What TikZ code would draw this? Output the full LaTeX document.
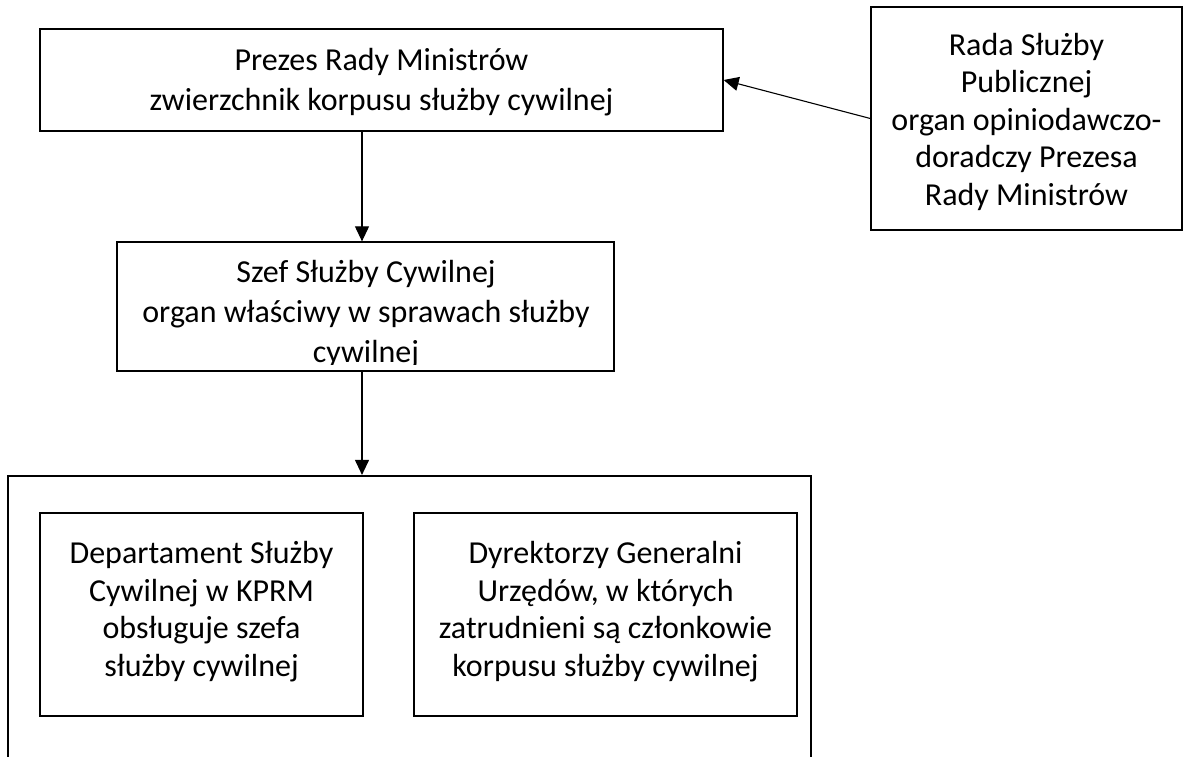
\documentclass[tikz,border=0pt]{standalone}
\usepackage{fontspec}
\setmainfont{Carlito}
\usetikzlibrary{arrows.meta,calc}
\begin{document}
\begin{tikzpicture}[x=1pt,y=-1pt,
  box/.style={draw, line width=1.3pt, inner sep=0pt},
  txt/.style={align=center, inner sep=0pt, font=\fontsize{32}{37.5}\selectfont},
  txtw/.style={align=center, inner sep=0pt, font=\fontsize{32}{40}\selectfont},
  frame/.style={draw, line width=2.2pt},
  conn/.style={line width=1.1pt, -{Triangle[length=15pt,width=14pt]}}]
\clip (0,0) rectangle (1184,756);
\fill[white] (0,0) rectangle (1184,756);
% boxes
\node[box, minimum width=683pt, minimum height=102pt] (prezes) at (381.5,80) {};
\node[box, minimum width=311pt, minimum height=223pt] (rada) at (1026.5,118.5) {};
\node[box, minimum width=497pt, minimum height=129pt] (szef) at (365.5,306.5) {};
\node[frame, minimum width=803pt, minimum height=330pt] (outer) at (409.5,641) {};
\node[box, minimum width=323pt, minimum height=203pt] (dep) at (201.5,614.5) {};
\node[box, minimum width=383pt, minimum height=203pt] (dyr) at (605.5,614.5) {};
% texts
\node[txtw] (prezest) at ($(prezes.center)+(0,2)$)
  {Prezes Rady Ministrów\\zwierzchnik korpusu służby cywilnej};
\node[txt] (radat) at ($(rada.center)+(0,3)$)
  {Rada Służby\\Publicznej\\organ opiniodawczo-\\doradczy Prezesa\\Rady Ministrów};
\begin{scope}
  \clip (117,242) rectangle (614,364);
  \node[txtw, anchor=base] (szeft) at (366,362)
    {Szef Służby Cywilnej\\organ właściwy w sprawach służby\\cywilnej};
\end{scope}
\node[txt] (dept) at ($(dep.center)+(0,-3)$)
  {Departament Służby\\Cywilnej w KPRM\\obsługuje szefa\\służby cywilnej};
\node[txt] (dyrt) at ($(dyr.center)+(0,-3)$)
  {Dyrektorzy Generalni\\Urzędów, w których\\zatrudnieni są członkowie\\korpusu służby cywilnej};
% connectors
\coordinate (ax) at (362,0);
\draw[conn] (prezes.south -| ax) -- (szef.north -| ax);
\draw[conn] (szef.south -| ax) -- (outer.north -| ax);
\draw[conn] (rada.west) -- (prezes.east);
\end{tikzpicture}
\end{document}
